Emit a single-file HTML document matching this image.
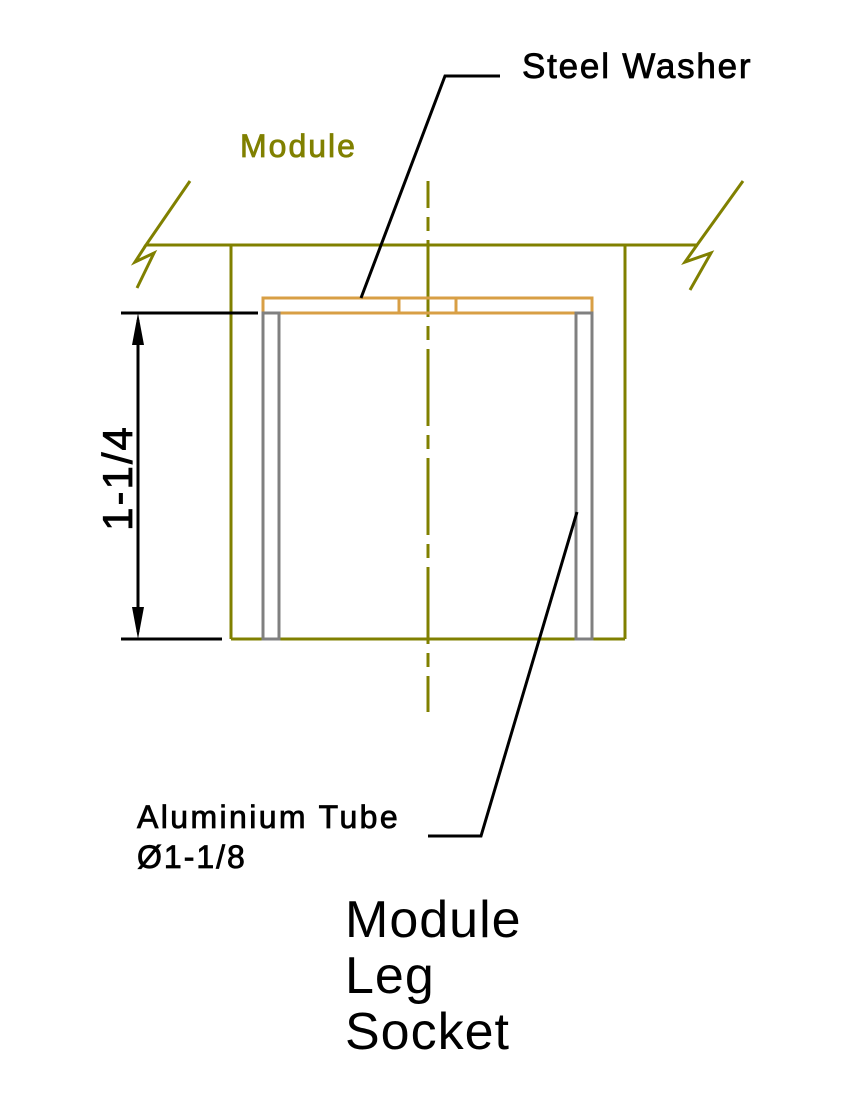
<!DOCTYPE html>
<html><head><meta charset="utf-8"><style>
html,body{margin:0;padding:0;background:#fff;}
svg{display:block;}
text{font-family:"Liberation Sans",sans-serif;stroke-width:0.8;}
</style></head><body>
<svg width="850" height="1100" viewBox="0 0 850 1100" xmlns="http://www.w3.org/2000/svg">
<g stroke="#808000" stroke-width="3" fill="none">
  <polyline points="190,181 146,245 697,245 743,181"/>
  <polyline points="146,245 135,262 154,253 137,288"/>
  <polyline points="697,245 685,262 711,253 690,290"/>
  <line x1="231" y1="245" x2="231" y2="639"/>
  <line x1="625" y1="245" x2="625" y2="639"/>
  <line x1="231" y1="639" x2="263" y2="639"/>
  <line x1="279" y1="639" x2="576" y2="639"/>
  <line x1="592" y1="639" x2="625" y2="639"/>
  <line x1="428" y1="181" x2="428" y2="712" stroke-dasharray="77,9,14,9" stroke-dashoffset="50"/>
</g>
<g stroke="#d89f45" stroke-width="3" fill="none">
  <rect x="263" y="298" width="329" height="15"/>
  <line x1="399" y1="298" x2="399" y2="313"/>
  <line x1="456" y1="298" x2="456" y2="313"/>
</g>
<g stroke="#808080" stroke-width="3" fill="none">
  <rect x="263" y="313" width="16" height="326"/>
  <rect x="576" y="313" width="16" height="326"/>
</g>
<g stroke="#000" stroke-width="3" fill="none">
  <polyline points="361,298 445,76 500,76"/>
  <polyline points="577,512 481,836 428,836"/>
  <line x1="121" y1="313" x2="258" y2="313"/>
  <line x1="121" y1="639" x2="222" y2="639"/>
  <line x1="138" y1="320" x2="138" y2="632"/>
</g>
<polygon points="138,313 132,345 144,345" fill="#000"/>
<polygon points="138,639 132,607 144,607" fill="#000"/>
<text x="522" y="78" font-size="35" fill="#000" stroke="#000" letter-spacing="1.8">Steel Washer</text>
<text x="240" y="157" font-size="32" fill="#808000" stroke="#808000" letter-spacing="2">Module</text>
<text transform="translate(132,478) rotate(-90)" font-size="42" fill="#000" stroke="#000" text-anchor="middle" letter-spacing="2">1-1/4</text>
<text x="137" y="828" font-size="32" fill="#000" stroke="#000" letter-spacing="2.4">Aluminium Tube</text>
<text x="137" y="868" font-size="32" fill="#000" stroke="#000" letter-spacing="2">Ø1-1/8</text>
<text x="345" y="937" font-size="52" fill="#000" letter-spacing="1">Module</text>
<text x="345" y="993" font-size="52" fill="#000" letter-spacing="1">Leg</text>
<text x="345" y="1049" font-size="52" fill="#000" letter-spacing="1">Socket</text>
</svg>
</body></html>
